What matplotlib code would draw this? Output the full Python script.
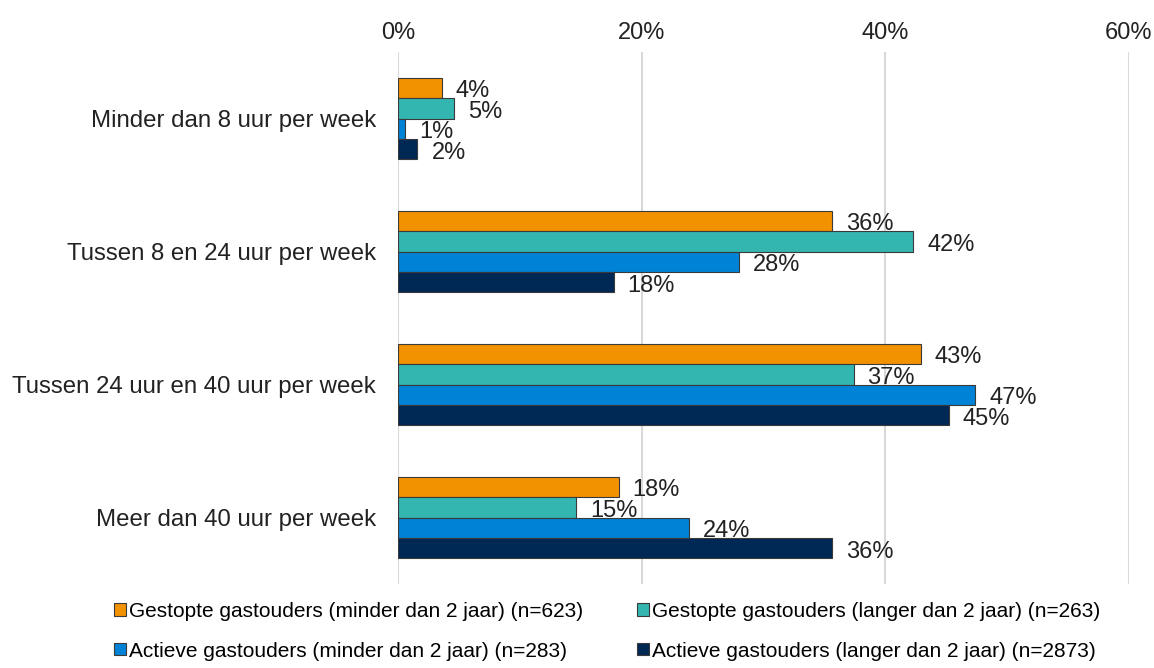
import matplotlib.pyplot as plt
import numpy as np

plt.rcParams['font.family'] = ['Liberation Sans', 'DejaVu Sans']

categories = [
    'Minder dan 8 uur per week',
    'Tussen 8 en 24 uur per week',
    'Tussen 24 uur en 40 uur per week',
    'Meer dan 40 uur per week',
]
series_names = [
    'Gestopte gastouders (minder dan 2 jaar) (n=623)',
    'Gestopte gastouders (langer dan 2 jaar) (n=263)',
    'Actieve gastouders (minder dan 2 jaar) (n=283)',
    'Actieve gastouders (langer dan 2 jaar) (n=2873)',
]
# percentages per series, one value per category
gestopt_kort = [3.6, 35.6, 42.9, 18.1]
gestopt_lang = [4.6, 42.3, 37.4, 14.6]
actief_kort = [0.6, 28.0, 47.4, 23.9]
actief_lang = [1.6, 17.7, 45.2, 35.6]
series = [gestopt_kort, gestopt_lang, actief_kort, actief_lang]
colors = ['#F39200', '#33B5B0', '#0082D6', '#002855']

fig = plt.figure(figsize=(11.54, 6.68), dpi=100)
ax = fig.add_axes([398 / 1154, 1 - 584 / 668, (1129 - 398) / 1154, (584 - 52) / 668])

y = np.arange(len(categories))
h = 0.154
handles = []
for i, (vals, col) in enumerate(zip(series, colors)):
    pos = y - 1.5 * h + i * h
    b = ax.barh(pos, vals, height=h, color=col, edgecolor='#3a3a3a', linewidth=0.8,
                label=series_names[i], zorder=3)
    handles.append(b)
    for p, v in zip(pos, vals):
        ax.annotate(f'{v:.0f}%', xy=(v, p), xytext=(10, -2.5), textcoords='offset points',
                    ha='left', va='center', fontsize=17, color='#222222')

ax.set_xlim(0, 60)
ax.set_ylim(len(categories) - 0.5, -0.5)
ax.set_xticks([0, 20, 40, 60])
ax.set_xticklabels(['0%', '20%', '40%', '60%'])
ax.xaxis.tick_top()
ax.set_yticks(y)
ax.set_yticklabels(categories)
ax.tick_params(axis='x', length=0, pad=6, labelsize=17, colors='#222222')
ax.tick_params(axis='y', length=0, pad=16, labelsize=17.3, colors='#222222')
for s in ax.spines.values():
    s.set_visible(False)
ax.grid(axis='x', color='#d9d9d9', linewidth=1.5, zorder=0)

# legend fills column-wise, so interleave to get two series per row
order = [0, 2, 1, 3]
fig.legend(handles=[handles[k] for k in order], labels=[series_names[k] for k in order],
           loc='lower left', bbox_to_anchor=(104 / 1154, -3 / 668), borderpad=0,
           ncol=2, frameon=False, fontsize=15, handlelength=0.55, handleheight=0.55,
           handletextpad=0.15, columnspacing=2.6, labelspacing=1.0)

fig.savefig('out.png', dpi=100)
